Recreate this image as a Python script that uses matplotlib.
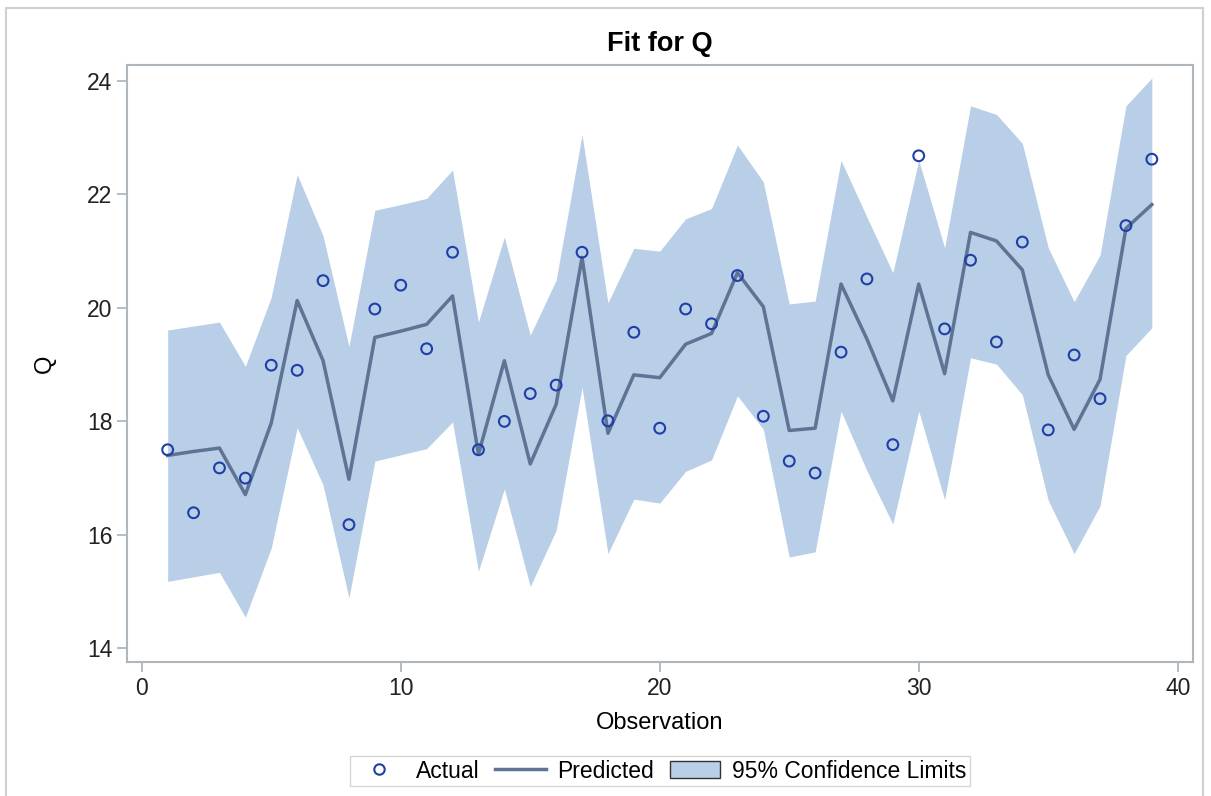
import matplotlib.pyplot as plt
from matplotlib.patches import Patch
from matplotlib.lines import Line2D

plt.rcParams['font.family'] = ['Liberation Sans', 'DejaVu Sans']

obs = list(range(1, 40))
actual = [17.50, 16.39, 17.18, 17.00, 18.99, 18.90, 20.48, 16.18, 19.98, 20.40,
          19.28, 20.98, 17.50, 18.00, 18.49, 18.64, 20.98, 18.01, 19.57, 17.88,
          19.98, 19.72, 20.57, 18.09, 17.30, 17.09, 19.22, 20.51, 17.59, 22.68,
          19.63, 20.84, 19.40, 21.16, 17.85, 19.17, 18.40, 21.45, 22.62]
predicted = [17.40, 17.47, 17.53, 16.71, 17.97, 20.13, 19.07, 16.98, 19.48, 19.59,
             19.71, 20.21, 17.42, 19.07, 17.25, 18.30, 20.89, 17.79, 18.82, 18.77,
             19.36, 19.55, 20.62, 20.02, 17.84, 17.88, 20.42, 19.45, 18.36, 20.42,
             18.84, 21.33, 21.18, 20.67, 18.82, 17.86, 18.74, 21.40, 21.82]
upper = [19.61, 19.68, 19.75, 18.97, 20.19, 22.35, 21.27, 19.32, 21.72, 21.82,
         21.93, 22.43, 19.75, 21.25, 19.52, 20.49, 23.05, 20.09, 21.05, 21.00,
         21.57, 21.75, 22.87, 22.22, 20.07, 20.12, 22.60, 21.60, 20.62, 22.60,
         21.06, 23.56, 23.41, 22.90, 21.06, 20.11, 20.93, 23.56, 24.05]
lower = [15.18, 15.26, 15.34, 14.55, 15.77, 17.89, 16.88, 14.89, 17.30, 17.41,
         17.52, 17.99, 15.36, 16.81, 15.09, 16.08, 18.60, 15.67, 16.63, 16.56,
         17.12, 17.32, 18.45, 17.86, 15.61, 15.70, 18.18, 17.13, 16.19, 18.18,
         16.62, 19.12, 19.01, 18.47, 16.61, 15.67, 16.51, 19.16, 19.65]

fill_col = '#b9cfe7'
line_col = '#5f7394'
mark_col = '#1f3fa8'
frame_col = '#b0b7bc'

W, H = 1211, 796
fig = plt.figure(figsize=(W / 100, H / 100), dpi=100)
ax = fig.add_axes([127 / W, 1 - 662 / H, (1193 - 127) / W, (662 - 65) / H])

ax.fill_between(obs, lower, upper, color=fill_col, lw=0, zorder=1)
ax.plot(obs, predicted, color=line_col, lw=2.5, zorder=2)
ax.scatter(obs, actual, s=60, facecolors='none', edgecolors=mark_col, linewidths=1.5, zorder=3)

ax.set_xlim(-0.57, 40.59)
ax.set_ylim(13.76, 24.28)
ax.set_xticks([0, 10, 20, 30, 40])
ax.set_yticks([14, 16, 18, 20, 22, 24])
ax.tick_params(labelsize=16.5, color=frame_col, length=7.5, width=1.3, labelcolor='#222222', pad=3)
for s in ax.spines.values():
    s.set_color(frame_col)
    s.set_linewidth(1.5)

ax.set_xlabel('Observation', fontsize=17, labelpad=9)
ax.set_ylabel('Q', fontsize=17, labelpad=22)
ax.set_title('Fit for Q', fontsize=19.5, fontweight='bold', pad=10)

handles = [
    Line2D([], [], marker='o', ls='none', markerfacecolor='none', markeredgecolor=mark_col,
           markeredgewidth=1.5, markersize=7.5),
    Line2D([], [], color=line_col, lw=2.5),
    Patch(facecolor=fill_col, edgecolor='#333333', lw=1),
]
fig.legend(handles, ['Actual', 'Predicted', '95% Confidence Limits'], loc='center',
           bbox_to_anchor=(660 / W, 1 - 771 / H), ncol=3, fontsize=16.5, frameon=True,
           fancybox=False, edgecolor='#cccccc', handlelength=2.2, handletextpad=0.5,
           columnspacing=0.7, borderpad=0.15, handleheight=0.7, borderaxespad=0)

# outer border
fig.add_artist(Line2D([6 / W, 6 / W], [0, 1 - 8 / H], transform=fig.transFigure, color='#d0d0d0', lw=1.5))
fig.add_artist(Line2D([6 / W, 1203 / W], [1 - 8 / H, 1 - 8 / H], transform=fig.transFigure, color='#d0d0d0', lw=1.5))
fig.add_artist(Line2D([1203 / W, 1203 / W], [0, 1 - 8 / H], transform=fig.transFigure, color='#d0d0d0', lw=1.5))

fig.savefig('out.png', dpi=100)
